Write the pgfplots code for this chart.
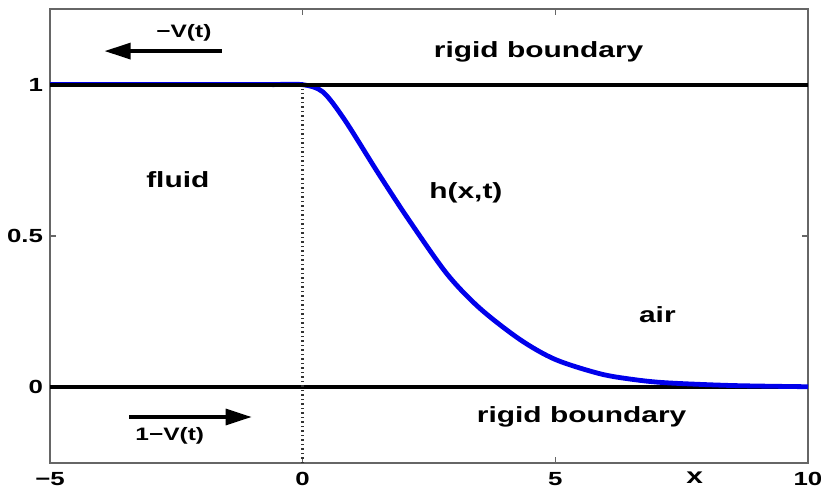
\documentclass[border=0pt]{standalone}
\usepackage{fontspec}
\setmainfont{Liberation Sans}[FakeStretch=1.36]
\usepackage{pgfplots}
\usepackage{pgfplotstable}
\pgfplotsset{compat=1.18}
\usetikzlibrary{arrows.meta}

% interface profile h(x,t)
\pgfplotstableread{
x     h
-0.6  1
0     1
0.4   0.976
0.83  0.884
1.49  0.709
2.09  0.556
2.85  0.376
3.5   0.262
4.3   0.158
5.0   0.092
5.88  0.045
6.54  0.026
7.2   0.015
8.5   0.006
10    0.002
}\profile

\definecolor{curveblue}{RGB}{0,0,235}

\begin{document}
\begin{tikzpicture}
\path[use as bounding box] (-25pt,-16pt) rectangle (385.5pt,231.5pt);
\begin{axis}[
    scale only axis,
    width=379pt, height=227pt,
    xmin=-5, xmax=10, ymin=-0.25, ymax=1.25,
    xtick={-5,0,5,10}, xticklabels={−5,0,5,10},
    ytick={0,0.5,1}, yticklabels={0,0.5,1},
    tick align=inside,
    major tick length=3pt,
    axis line style={black!60, line width=0.6pt},
    tick style={black!60, line width=0.6pt},
    ticklabel style={font=\fontsize{9.5}{11}\selectfont\bfseries},
    xticklabel style={yshift=-1pt},
    clip=false,
]
\addplot[black, line width=2pt] coordinates {(-5,0) (10,0)};
\addplot[curveblue, line width=2.4pt] coordinates {(-5,1) (0,1)};
\addplot[curveblue, line width=2.4pt, smooth] table[x=x, y=h] {\profile};
\addplot[black, line width=2pt] coordinates {(-5,1) (10,1)};
\addplot[black!80, line width=1.6pt, dash pattern=on 0.75pt off 1.5pt] coordinates {(0,-0.25) (0,0.985)};

\addplot[black, line width=1.6pt, -{Triangle[length=13pt, width=8pt]}] coordinates {(-1.60,1.111) (-3.92,1.111)};
\addplot[black, line width=1.6pt, -{Triangle[length=13pt, width=8pt]}] coordinates {(-3.43,-0.098) (-1.01,-0.098)};

\node[font=\fontsize{9}{10}\selectfont\bfseries] at (axis cs:-2.35,1.17) {−V(t)};
\node[font=\fontsize{9}{10}\selectfont\bfseries] at (axis cs:-2.63,-0.16) {1−V(t)};
\node[font=\fontsize{11}{13}\selectfont\bfseries] at (axis cs:4.67,1.108) {rigid boundary};
\node[font=\fontsize{11}{13}\selectfont\bfseries] at (axis cs:5.52,-0.097) {rigid boundary};
\node[font=\fontsize{11}{13}\selectfont\bfseries] at (axis cs:-2.47,0.685) {fluid};
\node[font=\fontsize{11}{13}\selectfont\bfseries] at (axis cs:3.23,0.643) {h(x,t)};
\node[font=\fontsize{11}{13}\selectfont\bfseries] at (axis cs:7.02,0.24) {air};
\node[font=\fontsize{11}{13}\selectfont\bfseries] at (axis cs:7.76,-0.30) {x};
\end{axis}
\end{tikzpicture}
\end{document}
